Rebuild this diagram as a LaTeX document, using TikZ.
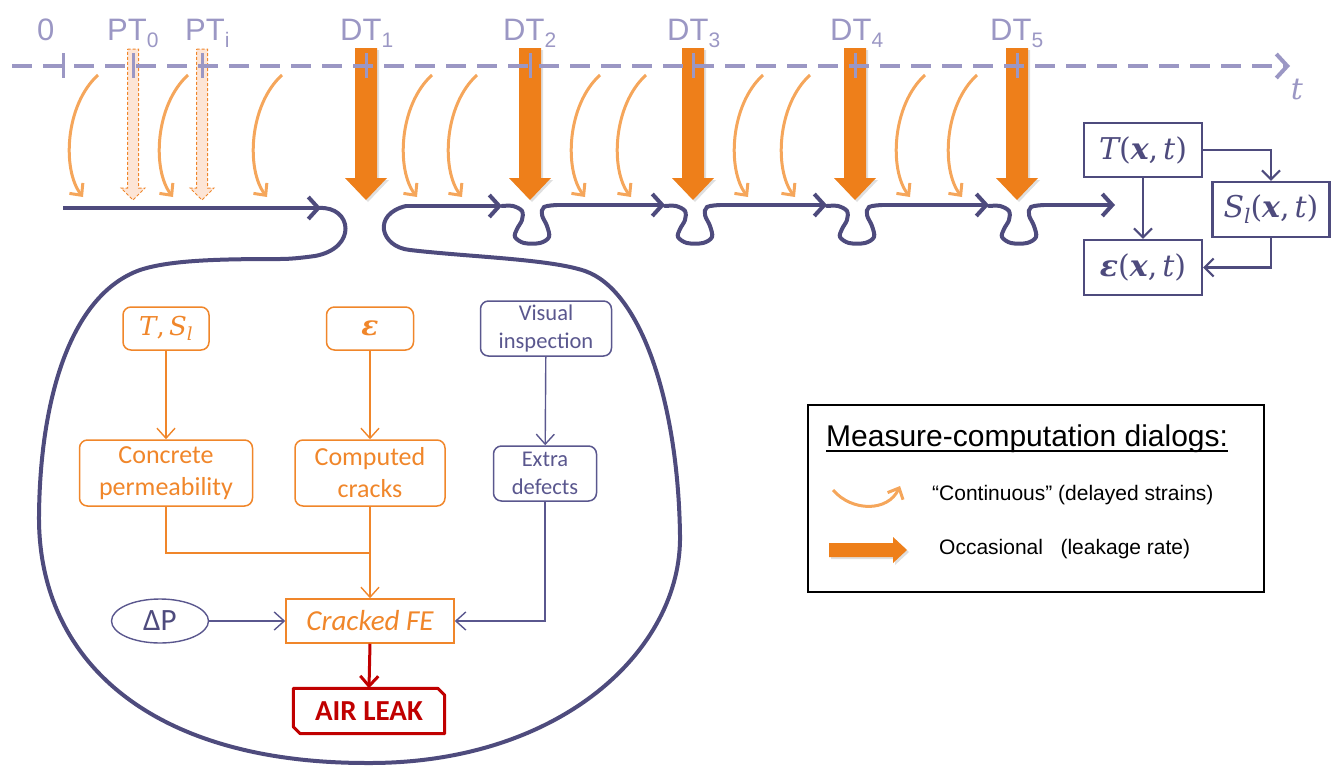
\documentclass[tikz,border=0pt]{standalone}
\usepackage{fontspec}
\setmainfont{Carlito}
\newfontfamily\arial{Liberation Sans}
\newfontfamily\mfam{DejaVu Serif}
\newcommand{\mfi}[1]{{\mfam\itshape #1}}
\newcommand{\mfb}[1]{{\mfam\bfseries\itshape #1}}
\newcommand{\mfr}[1]{{\mfam #1}}
\usetikzlibrary{arrows.meta,shapes.geometric,shadows}
\definecolor{navy}{HTML}{4E4B7D}
\definecolor{lav}{HTML}{9B97C4}
\definecolor{dtor}{HTML}{EE7F1A}
\definecolor{lor}{HTML}{F5A65B}
\definecolor{ior}{HTML}{F0862A}
\definecolor{ptfill}{HTML}{FDE5D6}
\definecolor{dred}{HTML}{C00000}
\definecolor{inav}{HTML}{5A578E}
\tikzset{
  tl/.style={lav, line width=4pt, dash pattern=on 20pt off 11pt},
  tickmark/.style={lav, line width=3pt},
  lbl/.style={lav, font=\arial\fontsize{31}{31}\selectfont, anchor=base west, inner sep=0pt},
  cur/.style={lor, line width=3pt, -{Straight Barb[length=9pt,width=17pt]}},
  nv/.style={navy, line width=4pt, line cap=round},
  nvarr/.style={navy, line width=4pt, -{Straight Barb[length=10pt,width=22pt]}},
  dtarrow/.style={fill=dtor, drop shadow={shadow xshift=2pt, shadow yshift=-2pt, opacity=0.25}},
  ptarrow/.style={fill=ptfill, draw=ior, line width=1pt, dash pattern=on 3pt off 2pt},
  rbox/.style={draw=navy, line width=2.2pt, text=navy, minimum width=118pt, minimum height=55pt, inner sep=0pt, font=\fontsize{30}{30}\selectfont},
  rarr/.style={navy, line width=2.2pt, -{Straight Barb[length=9pt,width=18pt]}},
  obox/.style={draw=ior, text=ior, rounded corners=8pt, line width=1.5pt, align=center, font=\fontsize{26}{32}\selectfont, inner sep=0pt},
  nbox/.style={draw=inav, text=inav, rounded corners=8pt, line width=1.5pt, align=center, font=\fontsize{22.5}{27.5}\selectfont, inner sep=0pt},
  oarr/.style={ior, line width=1.4pt, -{Straight Barb[length=10pt,width=18pt]}},
  oline/.style={ior, line width=1.4pt},
  narr/.style={inav, line width=1.4pt, -{Straight Barb[length=10pt,width=18pt]}},
  redarr/.style={dred, line width=3pt, -{Straight Barb[length=10pt,width=18pt]}},
  legtext/.style={font=\arial\fontsize{21}{21}\selectfont, anchor=west, inner sep=0pt}
}
\begin{document}
\begin{tikzpicture}[x=1pt,y=-1pt]
\useasboundingbox (0,0) rectangle (1334,766);
% PT arrows
\foreach \c in {133,202}{
  \draw[ptarrow] (\c-5.5,49) -- (\c+5.5,49) -- (\c+5.5,188) -- (\c+12,188) -- (\c,200) -- (\c-12,188) -- (\c-5.5,188) -- cycle;
}
% DT arrows
\foreach \c in {366,530,693,855,1017}{
  \path[dtarrow] (\c-11,48) -- (\c+11,48) -- (\c+11,178) -- (\c+21,178) -- (\c,200) -- (\c-21,178) -- (\c-11,178) -- cycle;
}
% continuous curved arrows
\foreach \x in {98,188,282,432,477,600,646,763,810,925,977}{
  \draw[cur] (\x,75) .. controls (\x-33,105) and (\x-36,170) .. (\x-15,197);
}
% time axis
\draw[tl, -{Straight Barb[length=11pt,width=24pt]}] (12,66) -- (1290,66);
\foreach \x in {63,133,202,366,530,693,855,1017}{
  \draw[tickmark] (\x,53) -- (\x,78);
}
\node[lbl] (l0) at (37,40) {0};
\node[lbl] (lpt0) at (107,40) {PT\raisebox{-7pt}{\fontsize{21}{21}\selectfont 0}};
\node[lbl] (lpti) at (185,40) {PT\raisebox{-7pt}{\fontsize{21}{21}\selectfont i}};
\node[lbl] (ldt1) at (340,40) {DT\raisebox{-7pt}{\fontsize{21}{21}\selectfont 1}};
\node[lbl] (ldt2) at (503,40) {DT\raisebox{-7pt}{\fontsize{21}{21}\selectfont 2}};
\node[lbl] (ldt3) at (667,40) {DT\raisebox{-7pt}{\fontsize{21}{21}\selectfont 3}};
\node[lbl] (ldt4) at (830,40) {DT\raisebox{-7pt}{\fontsize{21}{21}\selectfont 4}};
\node[lbl] (ldt5) at (990,40) {DT\raisebox{-7pt}{\fontsize{21}{21}\selectfont 5}};
\node[lav, font=\fontsize{30}{30}\selectfont] (lt) at (1297,90) {\mfi{t}};
% navy history line
\draw[nvarr] (63,208) -- (321,208);
\draw[nv] (319,208) .. controls (352,206) and (358,248) .. (315,256)
  .. controls (300,258) and (290,259) .. (280,259)
  .. controls (220,259) and (170,260) .. (140,270)
  .. controls (70,295) and (40,400) .. (39,516)
  .. controls (38,660) and (150,763) .. (367,763)
  .. controls (560,764) and (682,650) .. (680,535)
  .. controls (678,400) and (640,290) .. (585,271)
  .. controls (550,259) and (470,257) .. (410,250)
  .. controls (380,247) and (372,214) .. (406,206);
\draw[nvarr] (406,206) -- (502,206);
\foreach \c/\n in {530/693,693/855,855/1017,1017/1143}{
  \draw[nv] plot[smooth,tension=0.55] coordinates {(\c-28,206) (\c-17,206) (\c-8,211) (\c-8,220) (\c-13,229) (\c-15,237) (\c-6,243) (\c+10,243) (\c+19,237) (\c+17,226) (\c+12,215) (\c+14,207) (\c+27,205)};
  \draw[nvarr] (\c+27,205) -- (\n-28,205);
}
% right-hand model boxes
\node[rbox, minimum height=54pt] (T) at (1143,150) {\mfi{T}\mfr{(}\mfb{x}\mfr{,\,}\mfi{t}\mfr{)}};
\node[rbox, minimum width=117pt] (S) at (1271,209.5) {\mfi{S}\raisebox{-6pt}{\fontsize{20}{20}\selectfont\mfi{l}}\mfr{(}\mfb{x}\mfr{,\,}\mfi{t}\mfr{)}};
\node[rbox] (E) at (1143,267.5) {\mfb{ε}\mfr{(}\mfb{x}\mfr{,\,}\mfi{t}\mfr{)}};
\draw[rarr] (T.south) -- (E.north);
\draw[rarr] (T.east) -| (S.north);
\draw[rarr] (S.south) |- (E.east);
% inner diagram
\node[obox, minimum width=86pt, minimum height=43pt] (TS) at (166,328.5) {\mfi{T}\mfr{,\,}\mfi{S}\raisebox{-5pt}{\fontsize{18}{18}\selectfont\mfi{l}}};
\node[obox, minimum width=87pt, minimum height=43pt, font=\fontsize{28}{28}\selectfont] (eps) at (370,328.5) {\mfb{ε}};
\node[nbox, minimum width=131pt, minimum height=55pt] (vis) at (546,328.5) {Visual\\inspection};
\node[obox, minimum width=173pt, minimum height=66pt] (conc) at (166,473) {Concrete\\permeability};
\node[obox, minimum width=150pt, minimum height=66pt] (comp) at (370,473) {Computed\\cracks};
\node[nbox, minimum width=103pt, minimum height=55pt] (extra) at (545,473.5) {Extra\\defects};
\node[draw=ior, text=ior, line width=1.5pt, minimum width=168pt, minimum height=44pt, inner sep=0pt, font=\itshape\fontsize{29}{29}\selectfont] (fe) at (370,621) {Cracked FE};
\node[ellipse, draw=inav, text=navy, line width=1.4pt, minimum width=97pt, minimum height=44pt, inner sep=0pt, font=\fontsize{31}{31}\selectfont] (dp) at (160,621) {ΔP};
\node[text=dred, minimum width=151pt, minimum height=45pt, inner sep=0pt, font=\bfseries\fontsize{29}{29}\selectfont] (air) at (369,711) {AIR LEAK};
\draw[dred, line width=3pt, line join=round] (air.north west) -- ([xshift=-7pt]air.north east) -- ([yshift=-7pt]air.north east) -- (air.south east) -- ([xshift=7pt]air.south west) -- ([yshift=7pt]air.south west) -- cycle;
\coordinate (merge) at (370,553);
\draw[oarr] (TS) -- (conc);
\draw[oarr] (eps) -- (comp);
\draw[narr] (vis) -- (extra);
\draw[oline] (conc.south) |- (merge);
\draw[oarr] (comp.south) -- (fe.north);
\draw[narr] (extra.south) |- (fe.east);
\draw[narr] (dp) -- (fe);
\draw[redarr] (fe.south) -- (air.north);
% legend
\node[draw=black, line width=2.5pt, minimum width=456pt, minimum height=187pt, inner sep=0pt] (leg) at (1036,498.5) {};
\node[font=\arial\fontsize{30}{30}\selectfont, anchor=base west, inner sep=0pt] (lttl) at (826,446) {Measure-computation dialogs:};
\draw[line width=2pt] ([yshift=-5pt]lttl.base west) -- ([yshift=-5pt]lttl.base east);
\coordinate (ca) at (833,490);
\coordinate (cb) at (900,486);
\draw[lor, line width=3pt, -{Straight Barb[length=9pt,width=17pt]}] (ca) .. controls (852,512) and (888,512) .. (cb);
\path[dtarrow] (829,543) -- (893,543) -- (893,537) -- (907,550) -- (893,563) -- (893,557) -- (829,557) -- cycle;
\node[legtext] (lc) at (932,495) {“Continuous” (delayed strains)};
\node[legtext] (lo) at (939,549) {Occasional\ \ \ (leakage rate)};
\end{tikzpicture}
\end{document}
